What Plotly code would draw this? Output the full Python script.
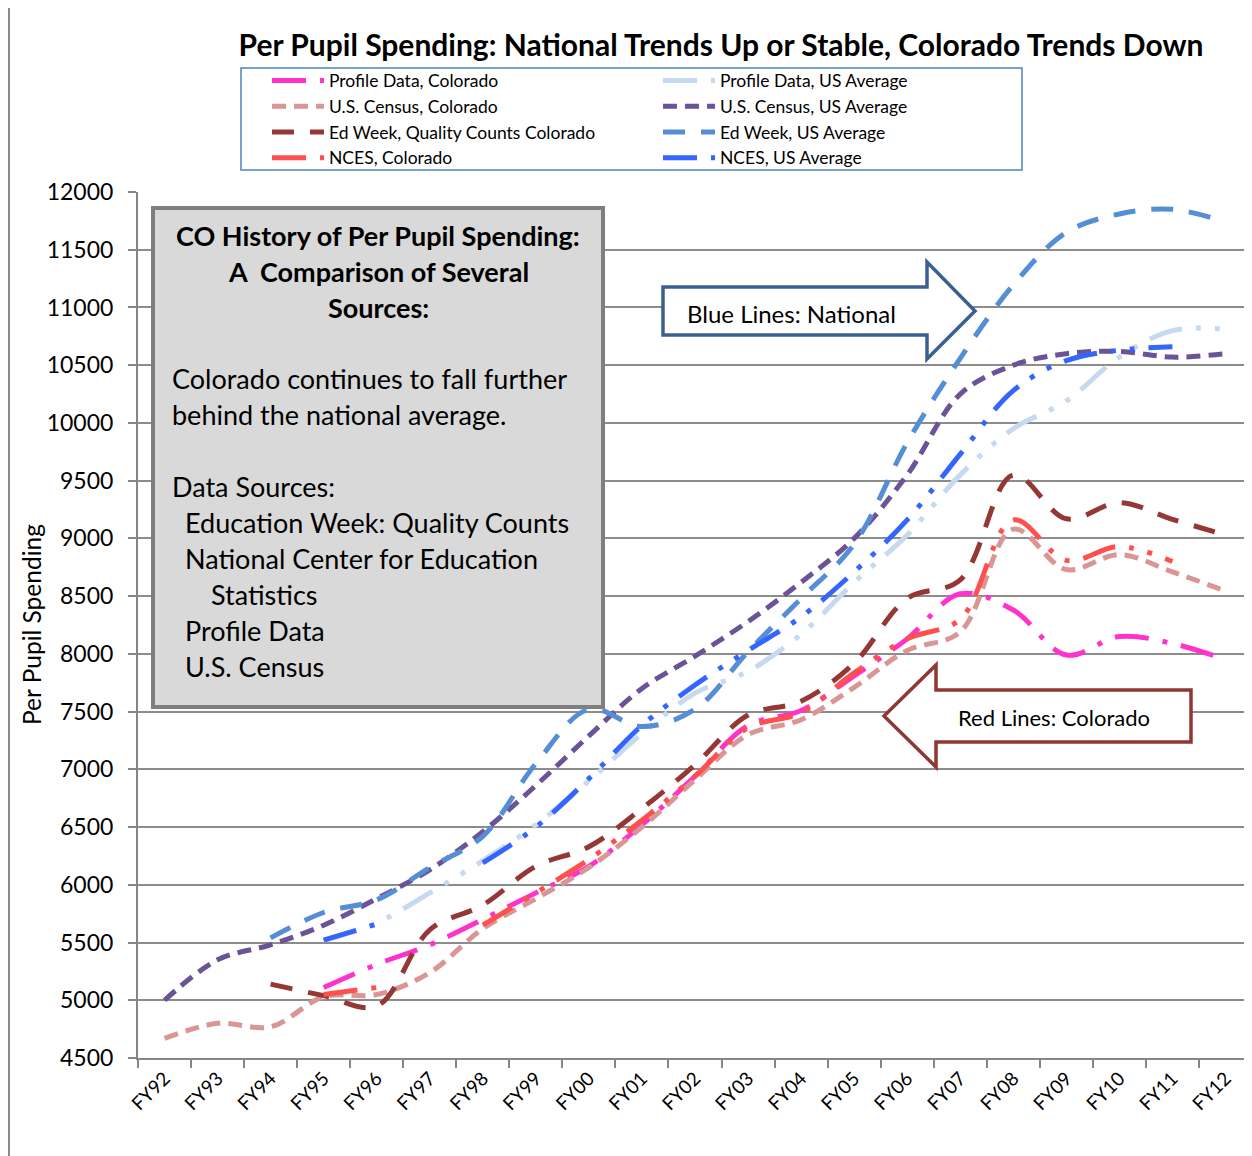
import plotly.graph_objects as go

# ---------------- data ----------------
years = ["FY92", "FY93", "FY94", "FY95", "FY96", "FY97", "FY98", "FY99", "FY00", "FY01", "FY02",
         "FY03", "FY04", "FY05", "FY06", "FY07", "FY08", "FY09", "FY10", "FY11", "FY12"]

profile_co = [None, None, None, 5110, 5310, 5480, 5700, 5930, 6160, 6520, 6940,
              7380, 7510, 7810, 8130, 8520, 8380, 7990, 8150, 8090, 7950]
profile_us = [None, None, None, 5520, 5670, 5930, 6210, 6520, 6900, 7310, 7660,
              7850, 8170, 8620, 9030, 9550, 9950, 10190, 10570, 10800, 10810]
census_co = [4670, 4800, 4770, 5030, 5050, 5240, 5620, 5880, 6150, 6500, 6910,
             7300, 7430, 7710, 8030, 8190, 9080, 8730, 8860, 8710, 8545]
census_us = [5000, 5350, 5480, 5650, 5880, 6130, 6460, 6860, 7290, 7700, 7980,
             8280, 8620, 9000, 9550, 10250, 10500, 10600, 10620, 10570, 10600]
edweek_co = [None, None, 5140, 5040, 4950, 5610, 5825, 6160, 6330, 6660, 7040,
             7470, 7590, 7920, 8480, 8640, 9550, 9170, 9310, 9165, 9030]
edweek_us = [None, None, 5540, 5760, 5870, 6150, 6420, 7050, 7520, 7370, 7520,
             8020, 8480, 8950, 9830, 10560, 11195, 11650, 11810, 11850, 11740]
nces_co = [None, None, None, 5050, 5110, None, 5650, 5930, 6220, 6560, 6940,
           7360, 7490, 7835, 8130, 8300, 9160, 8810, 8930, 8800, None]
nces_us = [None, None, None, 5520, 5660, None, 6190, 6500, 6920, 7380, 7730,
           8030, 8320, 8710, 9160, 9730, 10280, 10540, 10630, 10660, None]

series_names = ["Profile Data, Colorado", "Profile Data, US Average",
                "U.S. Census, Colorado", "U.S. Census, US Average",
                "Ed Week, Quality Counts Colorado", "Ed Week, US Average",
                "NCES, Colorado", "NCES, US Average"]
series_values = [profile_co, profile_us, census_co, census_us,
                 edweek_co, edweek_us, nces_co, nces_us]

title_text = "Per Pupil Spending: National Trends Up or Stable, Colorado Trends Down"
y_title = "Per Pupil Spending"
box_title = ["CO History of Per Pupil Spending:", "A  Comparison of Several", "Sources:"]
box_lines = ["Colorado continues to fall further", "behind the national average.", "",
             "Data Sources:", "  Education Week: Quality Counts",
             "  National Center for Education", "      Statistics", "  Profile Data", "  U.S. Census"]

# ---------------- styles ----------------
colors = ["#FF33CC", "#C6D9F1", "#D99694", "#6A5396", "#953735", "#558ED5", "#FF5050", "#3366FF"]
dashdot = "34px,14px,5px,14px"
dashdotdot = "34px,14px,5px,14px,5px,14px"
shortdash = "14px,8px"
longdash = "22px,16px"
dashes = [dashdot, dashdotdot, shortdash, shortdash, longdash, longdash, dashdotdot, dashdotdot]

FONT = "Lato, Carlito, Calibri, sans-serif"
OFF = 8                      # page body margin offset
W, H = 1252 - OFF, 1156 - OFF
PL, PR, PT, PB = 138, 1252, 192, 1058   # plot area in reference-screen pixels


def px(x):
    return (x - PL) / (PR - PL)


def py(y):
    return (PB - y) / (PB - PT)


fig = go.Figure()
for name, vals, col, dsh in zip(series_names, series_values, colors, dashes):
    fig.add_trace(go.Scatter(
        x=years, y=vals, name=name, mode="lines",
        line=dict(color=col, width=5, dash=dsh, shape="spline", smoothing=1.0),
        connectgaps=False, hoverinfo="x+y+name"))

shapes = []
annotations = []

# left border of chart area
shapes.append(dict(type="line", xref="paper", yref="paper", x0=px(9), x1=px(9),
                   y0=py(1170), y1=py(-10), line=dict(color="#8C8C8C", width=2), layer="above"))

# legend frame
shapes.append(dict(type="rect", xref="paper", yref="paper", x0=px(241), x1=px(1022),
                   y0=py(170), y1=py(68), fillcolor="white",
                   line=dict(color="#4F81BD", width=1.5), layer="below"))

# gray text box
shapes.append(dict(type="rect", xref="paper", yref="paper",
                   x0=px(153), x1=px(603), y0=py(707), y1=py(208),
                   fillcolor="#D9D9D9", line=dict(color="#7F7F7F", width=4), layer="above"))
for i, t in enumerate(box_title):
    annotations.append(dict(xref="paper", yref="paper", x=px(378), y=py(235 + 36 * i),
                            text="<b>" + t + "</b>", showarrow=False, xanchor="center",
                            yanchor="middle", font=dict(family=FONT, size=27, color="#000")))
for i, t in enumerate(box_lines):
    if not t:
        continue
    indent = len(t) - len(t.lstrip(" "))
    xl = 170 if indent == 0 else (183 if indent <= 2 else 209)
    annotations.append(dict(xref="paper", yref="paper", x=px(xl), y=py(378 + 36 * i),
                            text=t.strip(), showarrow=False, xanchor="left",
                            yanchor="middle", font=dict(family=FONT, size=27, color="#000")))


def path_from(points):
    return "M " + " L ".join(f"{px(a):.5f},{py(b):.5f}" for a, b in points) + " Z"


# blue arrow (right)
blue_pts = [(663, 287), (927, 287), (927, 262), (975, 311), (927, 359), (927, 335), (663, 335)]
shapes.append(dict(type="path", xref="paper", yref="paper", path=path_from(blue_pts),
                   fillcolor="white", line=dict(color="#3B6090", width=3.5), layer="above"))
annotations.append(dict(xref="paper", yref="paper", x=px(685), y=py(313), text="Blue Lines: National",
                        showarrow=False, xanchor="left", yanchor="middle",
                        font=dict(family=FONT, size=24, color="#000")))
# red arrow (left)
red_pts = [(884, 716), (936, 665), (936, 690), (1191, 690), (1191, 742), (936, 742), (936, 767)]
shapes.append(dict(type="path", xref="paper", yref="paper", path=path_from(red_pts),
                   fillcolor="white", line=dict(color="#8E3733", width=3.5), layer="above"))
annotations.append(dict(xref="paper", yref="paper", x=px(1054), y=py(717), text="Red Lines: Colorado",
                        showarrow=False, xanchor="center", yanchor="middle",
                        font=dict(family=FONT, size=22, color="#000")))

# y axis title
annotations.append(dict(xref="paper", yref="paper", x=px(31), y=py(625), text=y_title,
                        textangle=-90, showarrow=False, xanchor="center", yanchor="middle",
                        font=dict(family=FONT, size=24.5, color="#000")))

fig.update_layout(
    width=W, height=H,
    margin=dict(l=PL - OFF, r=0, t=PT - OFF, b=H - (PB - OFF), pad=0),
    paper_bgcolor="white", plot_bgcolor="white",
    font=dict(family=FONT, color="#000"),
    title=dict(text="<b>" + title_text + "</b>", x=(721 - OFF) / W, xref="container",
               xanchor="center", y=1 - (45 - OFF) / H, yref="container", yanchor="middle",
               font=dict(family=FONT, size=30, color="#000")),
    showlegend=True,
    legend=dict(orientation="h", x=px(267), y=py(62.5), xanchor="left", yanchor="top",
                xref="paper", yref="paper", entrywidth=324, entrywidthmode="pixels",
                bgcolor="rgba(0,0,0,0)", borderwidth=0,
                font=dict(family=FONT, size=17.5, color="#000"), traceorder="normal",
                itemwidth=52),
    shapes=shapes, annotations=annotations,
)

fig.update_xaxes(type="category", categoryorder="array", categoryarray=years,
                 tickson="boundaries", ticks="outside", ticklen=8, tickcolor="#868686", tickwidth=2,
                 showline=True, linecolor="#868686", linewidth=2, showgrid=False,
                 tickangle=-45, tickfont=dict(family=FONT, size=19, color="#000"),
                 range=[-0.5, len(years) - 0.5], fixedrange=True)
fig.update_yaxes(range=[4500, 12000], dtick=500, tick0=4500, tickformat="d",
                 ticks="outside", ticklen=8, ticklabelstandoff=10,
                 tickcolor="#868686", tickwidth=2, showline=True, linecolor="#868686", linewidth=2,
                 showgrid=True, gridcolor="#8C8C8C", gridwidth=2, zeroline=False,
                 tickfont=dict(family=FONT, size=23, color="#000"),
                 fixedrange=True)

fig.write_html("out.html")
